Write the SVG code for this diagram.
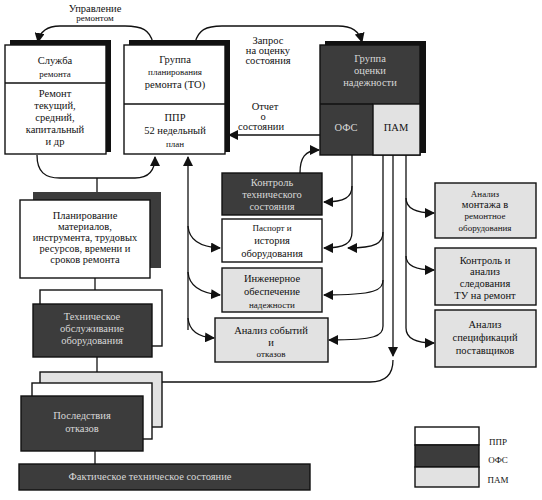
<svg xmlns="http://www.w3.org/2000/svg" width="542" height="500" viewBox="0 0 542 500" font-family="'Liberation Serif', 'DejaVu Serif', serif">
<style>
text{font-family:"Liberation Serif","DejaVu Serif",serif;font-size:10.5px;fill:#111;text-anchor:middle}
.sm{font-size:9px}
.lt{fill:#d8d8d8}
.w{fill:#fff;stroke:#111;stroke-width:1.4}
.d{fill:#3c3c3c;stroke:#111;stroke-width:1.4}
.g{fill:#e2e2e2;stroke:#111;stroke-width:1.4}
.sh{fill:#111}
.c{fill:none;stroke:#111;stroke-width:1.3}
</style>
<defs>
<marker id="ah" markerUnits="userSpaceOnUse" markerWidth="10" markerHeight="10" refX="9" refY="5" orient="auto">
<path d="M0,0 L10,5 L0,10 Z" fill="#111"/>
</marker>
</defs>
<rect width="542" height="500" fill="#fff"/>

<g id="connectors">
<path class="c" d="M153,43 C150,30 142,26 125,26 L60,26 C48,26 40,31 38,42" marker-end="url(#ah)"/>
<path class="c" d="M195,43 C198,30 206,26 222,26 L338,26 C352,26 359,31 362,42" marker-end="url(#ah)"/>
<path class="c" d="M320,135 L229,135" marker-end="url(#ah)"/>
<path class="c" d="M37,155 C37,172 45,178 60,178 L135,178 C148,178 155,172 155,157" marker-end="url(#ah)"/>
<path class="c" d="M97,178 L97,200"/>
<path class="c" d="M188,330 L188,157" marker-end="url(#ah)"/>
<path class="c" d="M188,226 C189,240 200,247 220,248" marker-end="url(#ah)"/>
<path class="c" d="M188,272 C189,286 200,293 220,295" marker-end="url(#ah)"/>
<path class="c" d="M188,318 C189,330 198,337 214,338" marker-end="url(#ah)"/>
<path class="c" d="M300,173 C300,158 305,150 319,150" marker-end="url(#ah)"/>
<path class="c" d="M352,155 L352,186 C352,197 345,202 324,202" marker-end="url(#ah)"/>
<path class="c" d="M352,186 L352,232 C352,243 345,248 324,248" marker-end="url(#ah)"/>
<path class="c" d="M383,155 L383,232 C383,243 376,248 348,248" marker-end="url(#ah)"/>
<path class="c" d="M383,232 L383,280 C383,290 376,295 324,295" marker-end="url(#ah)"/>
<path class="c" d="M383,280 L383,326 C383,336 376,340 329,340" marker-end="url(#ah)"/>
<path class="c" d="M393,155 L393,356" marker-end="url(#ah)"/>
<path class="c" d="M393,360 C393,375 385,382 370,382 L162,382"/>
<path class="c" d="M406,155 L406,198 C406,208 415,213 434,213" marker-end="url(#ah)"/>
<path class="c" d="M406,198 L406,256 C406,265 415,270 434,270" marker-end="url(#ah)"/>
<path class="c" d="M406,256 L406,328 C406,338 415,343 434,343" marker-end="url(#ah)"/>
<path class="c" d="M95,278 L95,290"/>
<path class="c" d="M97,357 L97,372"/>
<path class="c" d="M95,451 L95,464"/>
</g>

<g id="labels">
<text x="95" y="12">Управление</text>
<text x="95" y="21" class="sm">ремонтом</text>
<text x="268" y="44">Запрос</text>
<text x="268" y="54">на оценку</text>
<text x="268" y="64">состояния</text>
<text x="265" y="110">Отчет</text>
<text x="263" y="120">о</text>
<text x="261" y="130">состоянии</text>
</g>

<g id="sluzhba">
<rect class="sh" x="10" y="40" width="101" height="112"/>
<rect class="w" x="5" y="45" width="101" height="109"/>
<line class="c" x1="5" y1="83" x2="106" y2="83"/>
<text x="55" y="64">Служба</text>
<text x="55" y="77" class="sm">ремонта</text>
<text x="55" y="97">Ремонт</text>
<text x="55" y="109">текущий,</text>
<text x="55" y="121">средний,</text>
<text x="55" y="133">капитальный</text>
<text x="55" y="145">и др</text>
</g>

<g id="gruppa">
<rect class="sh" x="129" y="40" width="101" height="112"/>
<rect class="w" x="124" y="45" width="101" height="109"/>
<line class="c" x1="124" y1="104" x2="225" y2="104"/>
<text x="175" y="63">Группа</text>
<text x="175" y="75" class="sm">планирования</text>
<text x="175" y="88">ремонта (ТО)</text>
<text x="175" y="121">ППР</text>
<text x="175" y="134">52 недельный</text>
<text x="175" y="147" class="sm">план</text>
</g>

<g id="ocenka">
<rect class="sh" x="325" y="41" width="101" height="112"/>
<rect class="d" x="320" y="45" width="100" height="110"/>
<rect class="g" x="373" y="104" width="47" height="51"/>
<line class="c" x1="320" y1="104" x2="373" y2="104"/>
<text x="370" y="62" class="lt">Группа</text>
<text x="370" y="74" class="lt">оценки</text>
<text x="370" y="86" class="lt">надежности</text>
<text x="346" y="131" class="lt">ОФС</text>
<text x="396" y="131">ПАМ</text>
</g>

<g id="planirovanie">
<rect x="33" y="192" width="128" height="76" fill="#3c3c3c"/>
<rect class="w" x="20" y="200" width="130" height="78"/>
<text x="85" y="219">Планирование</text>
<text x="85" y="230">материалов,</text>
<text x="85" y="241">инструмента, трудовых</text>
<text x="85" y="252">ресурсов, времени и</text>
<text x="85" y="263">сроков ремонта</text>
</g>

<g id="tehobsl">
<rect class="w" x="40" y="290" width="122" height="56"/>
<rect class="d" x="33" y="304" width="119" height="53"/>
<text x="92" y="320" class="lt">Техническое</text>
<text x="92" y="332" class="lt">обслуживание</text>
<text x="92" y="344" class="lt">оборудования</text>
</g>

<g id="posledstviya">
<rect class="g" x="40" y="372" width="122" height="55"/>
<rect class="w" x="32" y="383" width="120" height="56"/>
<rect class="d" x="21" y="396" width="122" height="55"/>
<text x="82" y="419" class="lt">Последствия</text>
<text x="82" y="432" class="lt">отказов</text>
</g>

<g id="fakt">
<rect class="d" x="19" y="464" width="291" height="26"/>
<text x="150" y="480" class="lt">Фактическое техническое состояние</text>
</g>

<g id="kontrol">
<rect class="d" x="222" y="173" width="100" height="42"/>
<text x="272" y="186" class="lt">Контроль</text>
<text x="272" y="198" class="lt">технического</text>
<text x="272" y="210" class="lt">состояния</text>
</g>

<g id="pasport">
<rect class="w" x="222" y="219" width="100" height="43"/>
<text x="272" y="231" class="sm">Паспорт и</text>
<text x="272" y="244">история</text>
<text x="272" y="257">оборудования</text>
</g>

<g id="inzh">
<rect class="g" x="222" y="268" width="100" height="44"/>
<text x="272" y="282">Инженерное</text>
<text x="272" y="295">обеспечение</text>
<text x="272" y="308" class="sm">надежности</text>
</g>

<g id="analiz">
<rect class="g" x="215" y="318" width="113" height="44"/>
<text x="271" y="334">Анализ событий</text>
<text x="271" y="346">и</text>
<text x="271" y="357" class="sm">отказов</text>
</g>

<g id="montazh">
<rect class="g" x="435" y="183" width="101" height="55"/>
<text x="485" y="197" class="sm">Анализ</text>
<text x="485" y="208">монтажа в</text>
<text x="485" y="219" class="sm">ремонтное</text>
<text x="485" y="231" class="sm">оборудования</text>
</g>

<g id="kontrolTU">
<rect class="g" x="435" y="248" width="101" height="57"/>
<text x="485" y="264">Контроль и</text>
<text x="485" y="275">анализ</text>
<text x="485" y="287">следования</text>
<text x="485" y="299">ТУ на ремонт</text>
</g>

<g id="specif">
<rect class="g" x="435" y="310" width="101" height="57"/>
<text x="485" y="328">Анализ</text>
<text x="485" y="341">спецификаций</text>
<text x="485" y="354">поставщиков</text>
</g>

<g id="legend">
<rect class="w" x="415" y="427" width="64" height="18"/>
<rect class="d" x="415" y="445" width="64" height="22"/>
<rect class="g" x="415" y="467" width="64" height="20"/>
<text x="498" y="445" class="sm">ППР</text>
<text x="498" y="463" class="sm">ОФС</text>
<text x="498" y="483" class="sm">ПАМ</text>
</g>
</svg>
